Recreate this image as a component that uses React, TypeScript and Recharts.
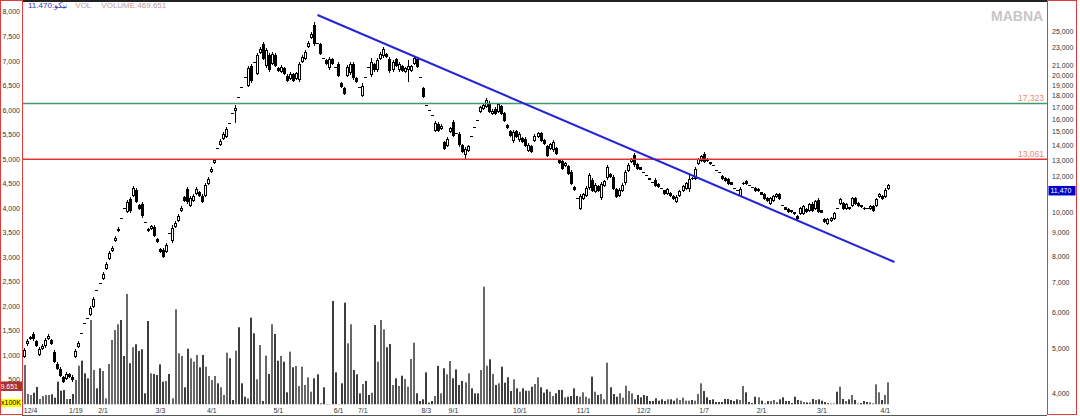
import React from "react";
import { ComposedChart, Bar, XAxis, YAxis, ReferenceLine } from "recharts";

const FONT = "'Liberation Sans', Arial, 'DejaVu Sans', sans-serif";

// daily candles: [open, high, low, close]
const ohlc: number[][] = [
  [4800, 5020, 4780, 4970], [5130, 5260, 5070, 5200], [5260, 5340, 5230, 5310], [5400, 5450, 5200, 5260],
  [5200, 5230, 5050, 5070], [4850, 5050, 4830, 5000], [5000, 5130, 4970, 5070], [5070, 5290, 5020, 5230],
  [5260, 5400, 5230, 5340], [5230, 5260, 5100, 5130], [4920, 4970, 4660, 4680], [4630, 4680, 4490, 4510],
  [4510, 4560, 4340, 4360], [4340, 4360, 4200, 4230], [4290, 4450, 4270, 4400], [4400, 4420, 4310, 4340],
  [4340, 4380, 4230, 4270], [4800, 5000, 4780, 4950], [5050, 5200, 5020, 5150], [5420, 5420, 5420, 5420],
  [5710, 5710, 5710, 5710], [5850, 5850, 5850, 5850], [5940, 6220, 5910, 6150], [6190, 6510, 6150, 6440],
  [6740, 6740, 6740, 6740], [6980, 6980, 6980, 6980], [7130, 7380, 7090, 7310], [7500, 7760, 7460, 7690],
  [7880, 8210, 7840, 8120], [8210, 8420, 8170, 8330], [8640, 8860, 8590, 8770], [9080, 9270, 9040, 9180],
  [9700, 9700, 9700, 9700], [10200, 10200, 10200, 10200], [10000, 10630, 9950, 10520], [10680, 10790, 9950, 10050],
  [10850, 11410, 10790, 11300], [11180, 11300, 10470, 10520], [10360, 10410, 10100, 10150], [10410, 10520, 9700, 9800],
  [9500, 9500, 9500, 9500], [9180, 9220, 9040, 9080], [9180, 9360, 9130, 9310], [9270, 9360, 8810, 8860],
  [8720, 8770, 8550, 8590], [8290, 8330, 8120, 8170], [8250, 8330, 7920, 7960], [8170, 8550, 8120, 8460],
  [8990, 8990, 8990, 8990], [8640, 9360, 8550, 9220], [9270, 9550, 9220, 9460], [9550, 9900, 9500, 9800],
  [10050, 10310, 10000, 10200], [10790, 10850, 10520, 10580], [11240, 11350, 10410, 10520], [10310, 10850, 10250, 10740],
  [10580, 10960, 10520, 10850], [10960, 11350, 10900, 11240], [11070, 11120, 10790, 10850], [10850, 10960, 10470, 10520],
  [10850, 11590, 10790, 11470], [11530, 11940, 11470, 11820], [12250, 12560, 12180, 12430], [12820, 13080, 12750, 13010],
  [13830, 13830, 13830, 13830], [14040, 14470, 13970, 14330], [14470, 15000, 14400, 14850], [14620, 15380, 14550, 15230],
  [15700, 15700, 15700, 15700], [16520, 16520, 16520, 16520], [16690, 17200, 15700, 16940], [17900, 17900, 17900, 17900],
  [18830, 18830, 18830, 18830], [19810, 19810, 19810, 19810], [18920, 20940, 18830, 20730], [20940, 21160, 19220, 19410],
  [21370, 21370, 21370, 21370], [20110, 22370, 20010, 22140], [22370, 23050, 22250, 22820], [23410, 23650, 21590, 21700],
  [20940, 22940, 20730, 22710], [22140, 22370, 20320, 20520], [21160, 22480, 21050, 22250], [22140, 22370, 20840, 20940],
  [20730, 20840, 20320, 20420], [20320, 21050, 20210, 20840], [20730, 20840, 20010, 20110], [19910, 20110, 19310, 19410],
  [19610, 20320, 19510, 20110], [20110, 20210, 19310, 19410], [19610, 20320, 19510, 20210], [19510, 21370, 19310, 21160],
  [21370, 22140, 21270, 21920], [21700, 22710, 21590, 22480], [23050, 23770, 22940, 23530], [24130, 24880, 24010, 24620],
  [25770, 26180, 23170, 23410], [23530, 23530, 23530, 23530], [23410, 23530, 22140, 22250], [21810, 21810, 21810, 21810],
  [21590, 21700, 21050, 21160], [20730, 21920, 20520, 21700], [21700, 21810, 21050, 21160], [20840, 20840, 20840, 20840],
  [21160, 21370, 19810, 19910], [19220, 19310, 18740, 18830], [18740, 18830, 18080, 18170], [19910, 21050, 19810, 20840],
  [20210, 21370, 20010, 21160], [21160, 21370, 19510, 19710], [19710, 19810, 19220, 19310], [18830, 18830, 18830, 18830],
  [17990, 19220, 17900, 18920], [19810, 19810, 19810, 19810], [20840, 20840, 20840, 20840], [20010, 21810, 19810, 21370],
  [21160, 21270, 20320, 20520], [20520, 21810, 20320, 21590], [21700, 22480, 21590, 22250], [22030, 23050, 21810, 22820],
  [22250, 22370, 21810, 21920], [21700, 21920, 20210, 20420], [20520, 21590, 20320, 21370], [21700, 21810, 20840, 20940],
  [20520, 21370, 20320, 21160], [20940, 21050, 20320, 20420], [20320, 20840, 20210, 20730], [20520, 21590, 19310, 20940],
  [20420, 21050, 20320, 20940], [21160, 22030, 21050, 21810], [21700, 21810, 20730, 20840], [19810, 19810, 19810, 19810],
  [18740, 18830, 17820, 17900], [17200, 17200, 17200, 17200], [16770, 16770, 16770, 16770], [16350, 16350, 16350, 16350],
  [15070, 15860, 15000, 15700], [15620, 15780, 15000, 15070], [15230, 15620, 15150, 15460], [14260, 14330, 13690, 13760],
  [13970, 14620, 13900, 14470], [15000, 15380, 14920, 15310], [15780, 15940, 14620, 14700], [14920, 14920, 14920, 14920],
  [14850, 15000, 13900, 14040], [14040, 14110, 13490, 13550], [13350, 13900, 13010, 13760], [13620, 14040, 13550, 13970],
  [14700, 14700, 14700, 14700], [15380, 15380, 15380, 15380], [15940, 15940, 15940, 15940], [16600, 17110, 16520, 17030],
  [16860, 17290, 16770, 17200], [17030, 17820, 16940, 17640], [17380, 17550, 16520, 16600], [16430, 16860, 16350, 16690],
  [16860, 17030, 16350, 16430], [16600, 17380, 16520, 17290], [17110, 17200, 16350, 16430], [16520, 16600, 15780, 15860],
  [15540, 15620, 15230, 15310], [15070, 15150, 14620, 14700], [14330, 15150, 14190, 15000], [15070, 15150, 14550, 14620],
  [14400, 15000, 14260, 14850], [14550, 14620, 14190, 14260], [14470, 14620, 13900, 13970], [13620, 14190, 13550, 14040],
  [13970, 14040, 13490, 13550], [14330, 14850, 14260, 14700], [14620, 15000, 14550, 14920], [14920, 15000, 14260, 14330],
  [14400, 14470, 14040, 14110], [13970, 14040, 13210, 13280], [13760, 14190, 13690, 14110], [13690, 14400, 13550, 14260],
  [13830, 13900, 13350, 13420], [13010, 13080, 12750, 12820], [12950, 13010, 12370, 12430], [12620, 12880, 12560, 12820],
  [12620, 12690, 12060, 12120], [12250, 12370, 11470, 11530], [11350, 11410, 11120, 11180], [10740, 10740, 10740, 10740],
  [10150, 10960, 10100, 10850], [10680, 11010, 10630, 10960], [10850, 11410, 10790, 11300], [11300, 12180, 11180, 12060],
  [11760, 11880, 11070, 11120], [11070, 11590, 11010, 11470], [11410, 11470, 11070, 11120], [10740, 11640, 10630, 11530],
  [11410, 11760, 11350, 11700], [11880, 12690, 11760, 12560], [12120, 12180, 11880, 11940], [11940, 12060, 11180, 11240],
  [11240, 11300, 10740, 10790], [10850, 11300, 10790, 11180], [11120, 11590, 11070, 11470], [11590, 12370, 11470, 12250],
  [12310, 12820, 12250, 12690], [12880, 13140, 12820, 13080], [13350, 13490, 12560, 12690], [12750, 12820, 12370, 12430],
  [12560, 12560, 12370, 12370], [12250, 12250, 12250, 12250], [12060, 12060, 12060, 12060], [11880, 11880, 11760, 11760],
  [11640, 11640, 11640, 11640], [11760, 11880, 11350, 11410], [11530, 11590, 11300, 11350], [11300, 11300, 11300, 11300],
  [11180, 11180, 10900, 10960], [10960, 11300, 10900, 11240], [11010, 11070, 10790, 10850], [10850, 10900, 10630, 10680],
  [10520, 10900, 10470, 10790], [10850, 11180, 10790, 11120], [11120, 11470, 11070, 11410], [11240, 11640, 11180, 11590],
  [11240, 12060, 11070, 11820], [11880, 11940, 11760, 11820], [11820, 12560, 11760, 12430], [12750, 13150, 12690, 13080],
  [12950, 13350, 12880, 13280], [13420, 13550, 12820, 12880], [13080, 13150, 12880, 12950], [12880, 12880, 12690, 12750],
  [12690, 12690, 12690, 12690], [12370, 12370, 12370, 12370], [12250, 12250, 12250, 12250], [12000, 12060, 11760, 11820],
  [11880, 11940, 11640, 11700], [11820, 11880, 11470, 11530], [11640, 11640, 11470, 11470], [11300, 11300, 11300, 11300],
  [11180, 11180, 11180, 11180], [10850, 11350, 10790, 11240], [11530, 11640, 11470, 11590], [11700, 11760, 11470, 11530],
  [11470, 11470, 11470, 11470], [11350, 11350, 11350, 11350], [11300, 11350, 11070, 11120], [11120, 11300, 11070, 11240],
  [11070, 11070, 10900, 10900], [10960, 11010, 10630, 10680], [10740, 10790, 10520, 10580], [10410, 10790, 10360, 10740],
  [10580, 10900, 10520, 10850], [10790, 11010, 10740, 10960], [10960, 11010, 10630, 10680], [10360, 10360, 10360, 10360],
  [10250, 10250, 10100, 10100], [10150, 10200, 9950, 10000], [10100, 10100, 9950, 10000], [10000, 10000, 9850, 9900],
  [9800, 9850, 9600, 9650], [9900, 10250, 9850, 10200], [9900, 10360, 9850, 10310], [10150, 10200, 9950, 10000],
  [10050, 10470, 10000, 10410], [10410, 10520, 10000, 10050], [10150, 10630, 10100, 10580], [10630, 10740, 9950, 10000],
  [10100, 10100, 9950, 9950], [9650, 9700, 9460, 9500], [9410, 9700, 9360, 9650], [9550, 9750, 9500, 9700],
  [9650, 10000, 9600, 9950], [10200, 10200, 10200, 10200], [10410, 10740, 10360, 10680], [10470, 10520, 10100, 10150],
  [10150, 10470, 10100, 10410], [10250, 10250, 10100, 10150], [10310, 10790, 10250, 10740], [10740, 10790, 10360, 10410],
  [10470, 10520, 10250, 10310], [10360, 10360, 10200, 10250], [10200, 10250, 10100, 10150], [10200, 10200, 10200, 10200],
  [10150, 10360, 10100, 10310], [10310, 10360, 10000, 10050], [10310, 10740, 10250, 10680], [10790, 11010, 10740, 10960],
  [10850, 10900, 10630, 10680], [10790, 11300, 10740, 11180], [11240, 11530, 11180, 11470],
];

// daily volume (thousands)
const volumes = [
  805, 214, 194, 240, 357, 112, 173, 194, 194, 208, 139, 465, 281, 296, 112, 112, 214, 500, 791, 893,
  636, 534, 1722, 703, 330, 738, 683, 126, 826, 1315, 1519, 1635, 1722, 989, 2253, 840, 1166, 1227, 1091, 1125,
  228, 1702, 636, 622, 601, 819, 465, 479, 622, 126, 1940, 1043, 989, 350, 1138, 942, 873, 1009, 758, 1009,
  771, 581, 500, 581, 432, 350, 194, 1057, 942, 92, 1097, 1574, 432, 159, 126, 1770, 1451, 514, 1213, 71,
  995, 622, 1635, 1437, 893, 989, 873, 248, 1077, 758, 785, 377,
  771, 398, 554, 261, 534, 615, 24, 350, 10, 10, 2110, 656, 10, 432, 2075, 1247, 1635, 703, 615, 228,
  418, 479, 194, 240, 1620, 873, 1722, 1533, 1166, 1233, 398, 534, 377, 587, 520, 363, 927, 1260, 228, 71,
  106, 656, 37, 71, 173, 785, 228, 738, 615, 887, 534, 717, 398, 479, 452, 636, 330, 228, 228, 703,
  2401, 791, 921, 622, 398, 432, 771, 445, 554, 275, 514, 330, 261, 330, 281, 281, 363, 418, 554, 350,
  240, 310, 261, 173, 228, 296, 296, 146, 159, 173, 330, 173,
  159, 248, 159, 126, 567, 261, 194, 214, 106, 853, 350, 214, 159, 228, 139, 384, 275, 228, 106, 194,
  146, 194, 173, 71, 71, 126, 78, 106, 71, 106, 106, 78, 126, 92, 139, 78, 78, 92, 78, 214,
  432, 275, 146, 92, 106, 51, 51, 51, 112, 112, 92, 71, 106, 92, 377, 248, 51, 30, 159, 146,
  78, 20, 71, 71, 92, 51, 106, 146, 71, 71, 30, 159, 92, 78, 51, 44, 44, 112, 92, 106,
  78, 51, 30, 20, 20, 261, 363, 112, 71, 106, 194, 92, 17, 30, 71, 51, 44, 20, 411, 248,
  92, 194, 452,
];

const monthStarts = [2, 17, 26, 45, 62, 84, 104, 112, 133, 142, 164, 185, 205, 225, 244, 264, 285];
const monthLabels = ["12/4", "1/19", "2/1", "3/3", "4/1", "5/1", "6/1", "7/1", "8/3", "9/1", "10/1", "11/1", "12/2", "1/7", "2/1", "3/1", "4/1"];

const volumeTicks = [500, 1000, 1500, 2000, 2500, 3000, 3500, 4000, 4500, 5000, 5500, 6000, 6500, 7000, 7500, 8000];
const priceTicks = [4000, 5000, 6000, 7000, 8000, 9000, 10000, 12000, 13000, 14000, 15000, 16000, 17000, 18000, 19000, 20000, 21000, 23000, 25000];

const resistance = 17323;
const support = 13061;
const lastPrice = 11470;
const lastVolume = 469.651;
const lastVolumeTag = "9.651"; // the left tag only shows the tail of the number
const trendLine = [{ x: 97, y: 27120 }, { x: 288, y: 7765 }];

const SLOTS = 339; // empty days to the right of the last candle

const fmt = (v: number) => String(v).replace(/\B(?=(\d{3})+(?!\d))/g, ",");

const data = Array.from({ length: SLOTS }, (_, i) => {
  const c = ohlc[i];
  if (!c) return { day: i };
  return { day: i, open: c[0], high: c[1], low: c[2], close: c[3], vol: volumes[i], up: c[3] > c[0] };
});

const CandleShape = (props: any) => {
  const { x, y, width, height, payload } = props;
  if (!payload || payload.open == null) return null;
  const { open, high, low, close } = payload;
  const top = Math.min(y, y + height);
  const bottom = Math.max(y, y + height);
  const span = Math.log(high / low);
  const at = (v: number) => (span > 0 ? top + ((bottom - top) * Math.log(high / v)) / span : top);
  const cx = Math.floor(x + width / 2);
  if (span === 0) return <rect x={cx - 1} y={Math.round(top)} width={3} height={1} fill="#000" />;
  const wTop = Math.round(top);
  const wBot = Math.max(Math.round(bottom), wTop + 1);
  const bTop = Math.round(Math.min(at(open), at(close)));
  const bBot = Math.max(Math.round(Math.max(at(open), at(close))), bTop + 1);
  const hollow = close > open && bBot - bTop >= 3;
  return (
    <g>
      <rect x={cx} y={wTop} width={1} height={wBot - wTop} fill="#000" />
      {hollow ? (
        <rect x={cx - 0.5} y={bTop + 0.5} width={2} height={bBot - bTop - 1} fill="#fff" stroke="#000" strokeWidth={1} />
      ) : (
        <rect x={cx - 1} y={bTop} width={3} height={bBot - bTop} fill="#000" />
      )}
    </g>
  );
};

const VolumeShape = (props: any) => {
  const { x, y, width, height, payload } = props;
  if (!payload || payload.vol == null || !height) return null;
  const cx = Math.floor(x + width / 2);
  return <rect x={cx - 1} y={Math.min(y, y + height)} width={2} height={Math.abs(height)} fill={payload.up ? "#686868" : "#3e3e3e"} />;
};

const VolTick = ({ y, payload }: any) => (
  <text x={20} y={y} dy={2.5} textAnchor="end" fontSize={7} fontFamily={FONT} fill="#333">
    {fmt(payload.value)}
  </text>
);

const PriceTick = ({ y, payload }: any) => (
  <text x={1052} y={y} dy={2.5} textAnchor="start" fontSize={7} fontFamily={FONT} fill="#333">
    {fmt(payload.value)}
  </text>
);

const DateTick = ({ x, payload }: any) => {
  const k = monthStarts.indexOf(payload.value);
  return (
    <text x={x} y={413} textAnchor="middle" fontSize={7} fontFamily={FONT} fill="#333">
      {k >= 0 ? monthLabels[k] : ""}
    </text>
  );
};

const LevelLabel = ({ viewBox, text }: any) => (
  <text x={viewBox.x + viewBox.width - 3} y={viewBox.y - 2.5} textAnchor="end" fontSize={8.5} fontFamily={FONT} fill="#ec8a72">
    {text}
  </text>
);

const PriceTag = ({ viewBox }: any) => (
  <g>
    <rect x={viewBox.x + viewBox.width + 1.5} y={viewBox.y + 1} width={27} height={9.5} fill="#0000c8" />
    <text x={viewBox.x + viewBox.width + 3.5} y={viewBox.y + 8.5} fontSize={7} fontFamily={FONT} fill="#fff">
      {fmt(lastPrice)}
    </text>
  </g>
);

const VolTag = ({ viewBox }: any) => (
  <g>
    <rect x={0} y={viewBox.y} width={22} height={9.5} fill="#a8302e" />
    <text x={18} y={viewBox.y + 7.5} textAnchor="end" fontSize={7} fontFamily={FONT} fill="#fff">
      {lastVolumeTag}
    </text>
  </g>
);

export default function App() {
  return (
    <div style={{ position: "absolute", left: 0, top: 0, width: 1080, height: 416, background: "#fff", overflow: "hidden" }}>
      <ComposedChart width={1080} height={416} data={data} margin={{ top: 4, right: 0, bottom: 0, left: 1 }}>
        <XAxis
          xAxisId="vol"
          dataKey="day"
          type="category"
          ticks={monthStarts}
          interval={0}
          tick={<DateTick />}
          tickLine={false}
          axisLine={{ stroke: "#555" }}
          height={11.5}
        />
        <XAxis xAxisId="px" dataKey="day" type="category" hide />
        <YAxis
          yAxisId="vol"
          orientation="left"
          type="number"
          domain={[0, 8163]}
          ticks={volumeTicks}
          interval={0}
          allowDataOverflow
          width={22}
          tick={<VolTick />}
          tickLine={false}
          axisLine={false}
        />
        <YAxis
          yAxisId="px"
          orientation="right"
          type="number"
          scale="log"
          domain={[3774, 28672]}
          ticks={priceTicks}
          interval={0}
          allowDataOverflow
          width={33}
          tick={<PriceTick />}
          tickLine={false}
          axisLine={false}
        />
        <Bar xAxisId="vol" yAxisId="vol" dataKey="vol" barSize={2} shape={(p: any) => <VolumeShape {...p} />} isAnimationActive={false} />
        <Bar
          xAxisId="px"
          yAxisId="px"
          dataKey={(d: any) => (d.open == null ? null : [d.low, d.high])}
          barSize={3}
          shape={(p: any) => <CandleShape {...p} />}
          isAnimationActive={false}
        />
        <ReferenceLine xAxisId="px" yAxisId="px" y={resistance} stroke="#3f9b6e" strokeWidth={1.5} label={<LevelLabel text={fmt(resistance)} />} />
        <ReferenceLine xAxisId="px" yAxisId="px" y={support} stroke="#e03434" strokeWidth={1.5} label={<LevelLabel text={fmt(support)} />} />
        <ReferenceLine xAxisId="px" yAxisId="px" segment={trendLine} stroke="#2424d8" strokeWidth={2} ifOverflow="visible" />
        <ReferenceLine xAxisId="px" yAxisId="px" y={lastPrice} stroke="none" label={<PriceTag />} />
        <ReferenceLine xAxisId="vol" yAxisId="vol" y={lastVolume} stroke="none" label={<VolTag />} />
      </ComposedChart>

      {/* frames and header drawn over the chart */}
      <div style={{ position: "absolute", left: 22, top: 0, width: 1025, height: 1.5, background: "#222" }} />
      <div style={{ position: "absolute", left: 22, top: 414.5, width: 1025, height: 1, background: "#555" }} />
      <div style={{ position: "absolute", left: 0, top: 0, width: 23, height: 415, boxSizing: "border-box", border: "1.5px solid #e03c3c" }} />
      <div style={{ position: "absolute", left: 1047, top: 0, width: 30, height: 415, boxSizing: "border-box", border: "1.5px solid #e03c3c" }} />
      <div style={{ position: "absolute", left: 1, top: 399, width: 20, height: 8, background: "#ffff00", fontFamily: FONT, fontSize: 7, lineHeight: "8px", color: "#000" }}>
        x100K
      </div>
      <div style={{ position: "absolute", left: 28, top: 1, fontFamily: FONT, fontSize: 8, lineHeight: "10px", whiteSpace: "nowrap", direction: "ltr" }}>
        <span style={{ color: "#3030c0" }}>11.470:نیکو</span>
        <span style={{ color: "#c49a9a", marginLeft: 8 }}>VOL</span>
        <span style={{ color: "#c49a9a", marginLeft: 10 }}>VOLUME:469.651</span>
      </div>
      <div style={{ position: "absolute", left: 991, top: 8, fontFamily: FONT, fontSize: 14, fontWeight: 700, color: "#c6c6c6" }}>MABNA</div>
    </div>
  );
}
